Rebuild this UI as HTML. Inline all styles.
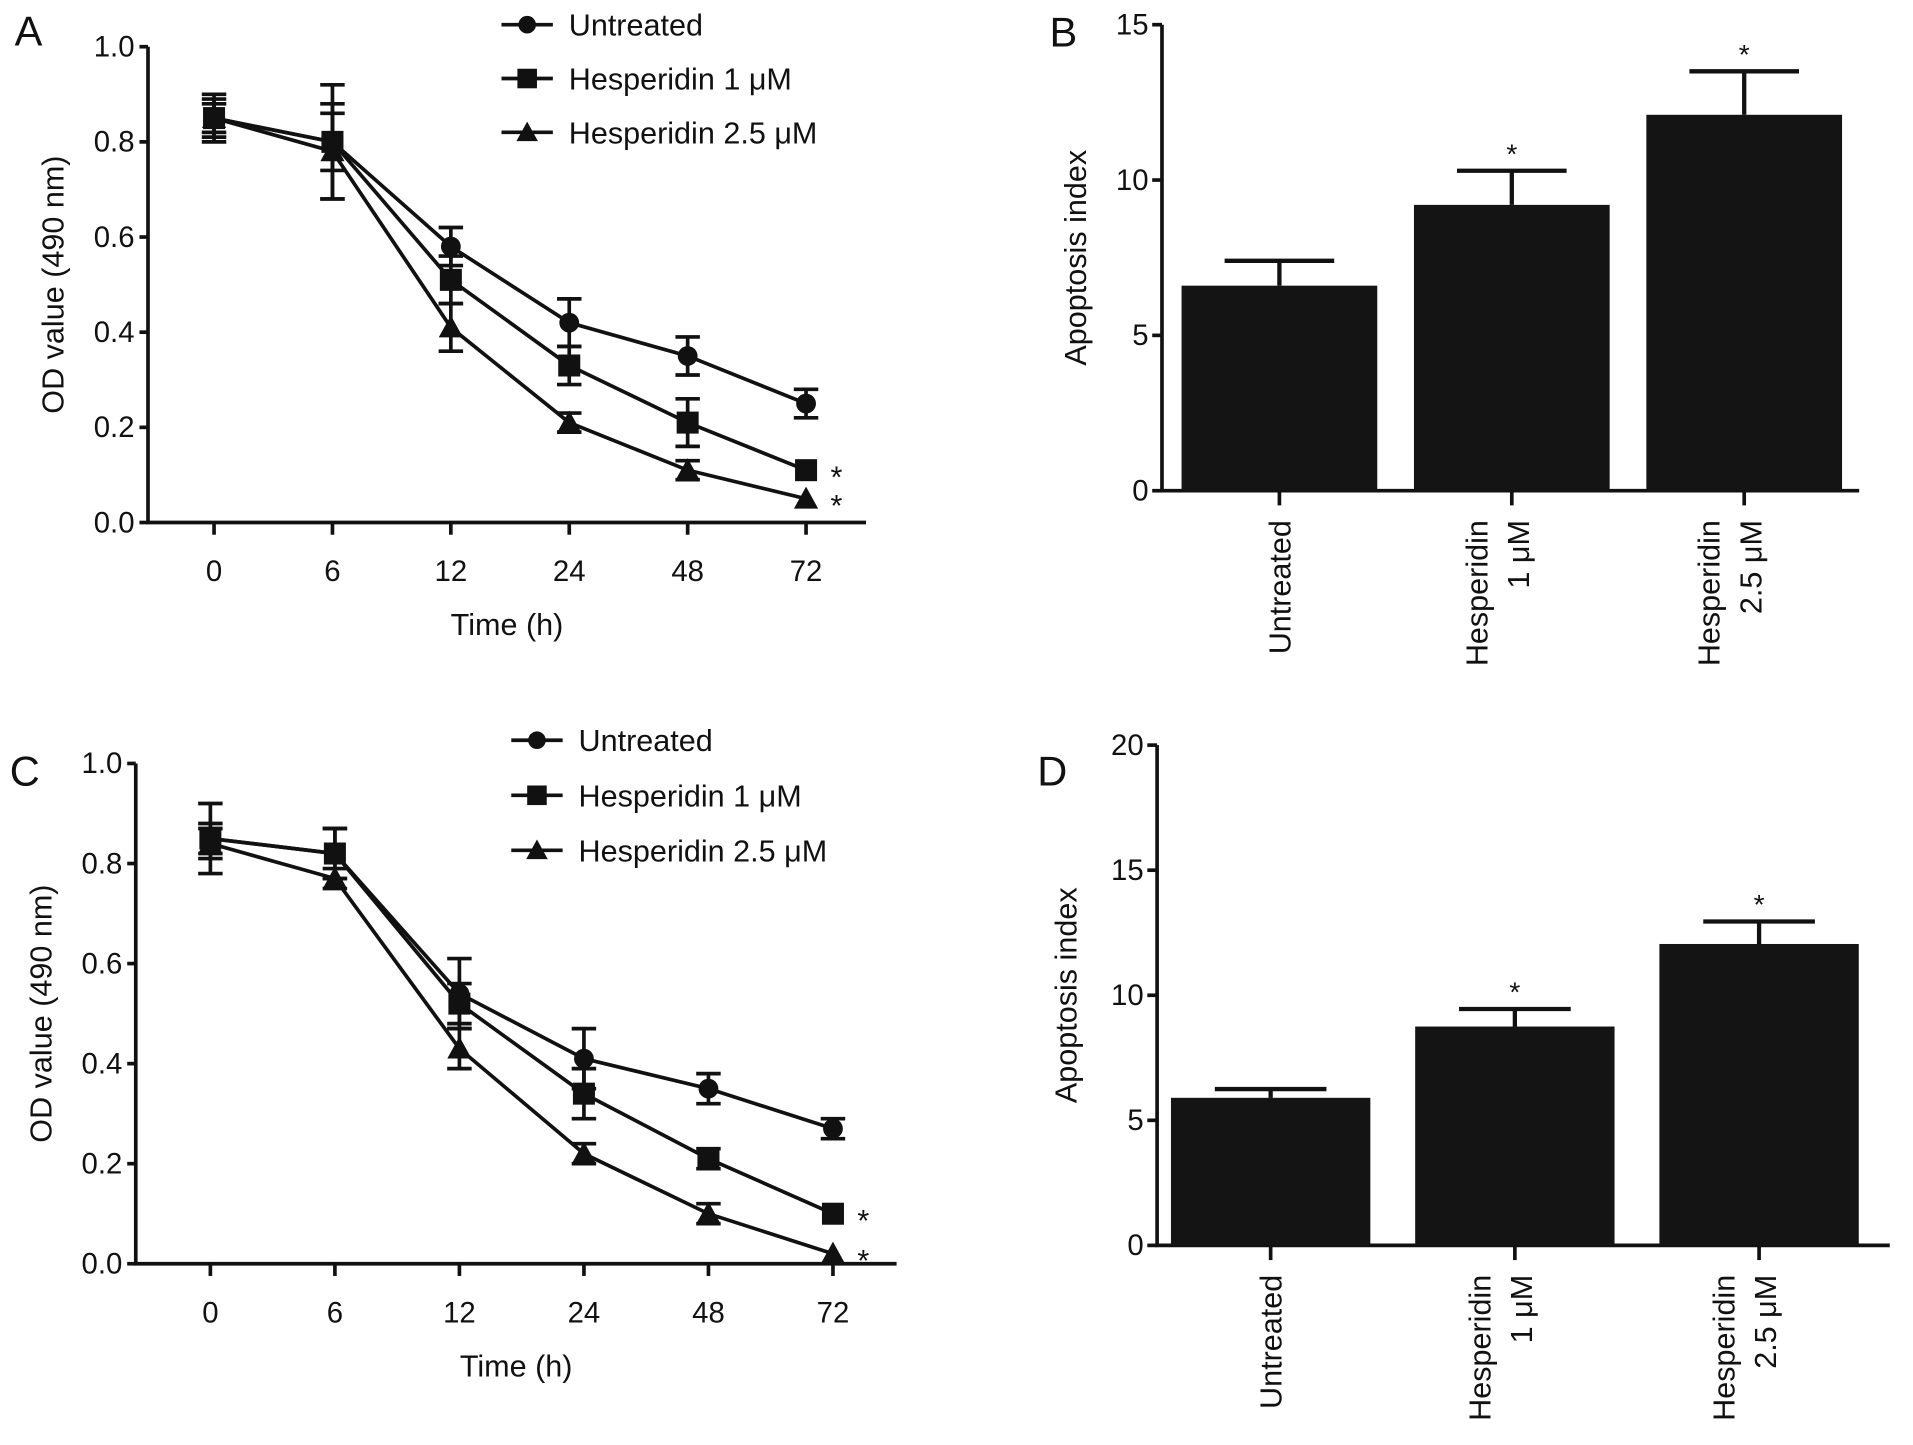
<!DOCTYPE html>
<html><head><meta charset="utf-8"><style>
html,body{margin:0;padding:0;background:#fff}
svg{display:block}
text{font-family:"Liberation Sans",Arial,sans-serif;fill:#111}
</style></head><body>
<svg id="fig" width="1913" height="1445" viewBox="0 0 1564 1181" xmlns="http://www.w3.org/2000/svg"></svg>
<script>
// ---- data ----
const timeLabels = ["0","6","12","24","48","72"];
const seriesNames = ["Untreated","Hesperidin 1 \u03bcM","Hesperidin 2.5 \u03bcM"];
const aUntreated = [0.85,0.80,0.58,0.42,0.35,0.25];
const aUntreatedErr = [0.05,0.12,0.04,0.05,0.04,0.03];
const aH1 = [0.85,0.80,0.51,0.33,0.21,0.11];
const aH1Err = [0.04,0.06,0.05,0.04,0.05,0.0];
const aH25 = [0.85,0.78,0.41,0.21,0.11,0.05];
const aH25Err = [0.03,0.10,0.05,0.02,0.02,0.0];
const cUntreated = [0.85,0.82,0.54,0.41,0.35,0.27];
const cUntreatedErr = [0.07,0.05,0.07,0.06,0.03,0.02];
const cH1 = [0.85,0.82,0.52,0.34,0.21,0.10];
const cH1Err = [0.03,0.05,0.04,0.05,0.02,0.0];
const cH25 = [0.84,0.77,0.43,0.22,0.10,0.02];
const cH25Err = [0.03,0.02,0.04,0.02,0.02,0.0];
const odTicks = [0,0.2,0.4,0.6,0.8,1.0];
const barCategories = [["Untreated"],["Hesperidin","1 \u03bcM"],["Hesperidin","2.5 \u03bcM"]];
const bValues = [6.6,9.2,12.1];
const bErr = [0.8,1.1,1.4];
const bTicks = [0,5,10,15];
const dValues = [5.9,8.75,12.05];
const dErr = [0.35,0.7,0.9];
const dTicks = [0,5,10,15,20];

const NS="http://www.w3.org/2000/svg";
const svg=document.getElementById('fig');
function mk(tag,attrs,parent){const e=document.createElementNS(NS,tag);for(const k in attrs)e.setAttribute(k,attrs[k]);(parent||svg).appendChild(e);return e;}
function txt(s,attrs,parent){const e=mk('text',attrs,parent);e.textContent=s;return e;}

function linePanel(cfg){
  const g=mk('g',{});
  
  
  const y=v=>cfg.y0+(cfg.y1-cfg.y0)*v;
  const x=i=>cfg.xs[0]+(cfg.xs[1]-cfg.xs[0])*i/5;
  const ax=mk('path',{d:`M${cfg.ax} ${cfg.y1} V${cfg.y0} H${cfg.axEnd}`,stroke:'#111','stroke-width':3,fill:'none'},g);
  
  
  odTicks.forEach(t=>{
    mk('line',{x1:cfg.ax-7,x2:cfg.ax,y1:y(t),y2:y(t),stroke:'#111','stroke-width':3},g);
    const tl=txt(t.toFixed(1),{x:cfg.ax-11,y:y(t)+8,'text-anchor':'end','font-size':24},g);
    
    
  });
  timeLabels.forEach((t,i)=>{
    mk('line',{x1:x(i),x2:x(i),y1:cfg.y0,y2:cfg.y0+10,stroke:'#111','stroke-width':3},g);
    const tl=txt(t,{x:x(i),y:cfg.y0+48,'text-anchor':'middle','font-size':24},g);
    
    
  });
  const xt=txt('Time (h)',{x:(cfg.ax+cfg.axEnd)/2,y:cfg.y0+92,'text-anchor':'middle','font-size':25},g);
  
  
  const cy=(cfg.y0+cfg.y1)/2;
  const yt=txt('OD value (490 nm)',{x:cfg.ylx,y:cy,'text-anchor':'middle','font-size':25,transform:`rotate(-90 ${cfg.ylx} ${cy})`},g);
  
  
  const pl=txt(cfg.letter,{x:cfg.lx,y:cfg.ly,'font-size':34},g);
  
  
  const markers=['circle','square','triangle'];
  function marker(kind,cx,cy2,s){
    let m;
    if(kind==='circle')m=mk('circle',{cx:cx,cy:cy2,r:s*0.9,fill:'#111'},g);
    else if(kind==='square')m=mk('rect',{x:cx-s,y:cy2-s,width:2*s,height:2*s,fill:'#111'},g);
    else m=mk('polygon',{points:`${cx},${cy2-s*1.1} ${cx-s*1.1},${cy2+s*0.9} ${cx+s*1.1},${cy2+s*0.9}`,fill:'#111'},g);
    return m;
  }
  cfg.series.forEach((s,si)=>{
    const sg=mk('g',{},g);
    
    
    const d=s.v.map((v,i)=>(i?'L':'M')+x(i)+' '+y(v)).join(' ');
    mk('path',{d:d,stroke:'#111','stroke-width':3,fill:'none'},sg);
    s.v.forEach((v,i)=>{
      const e=s.e[i];
      if(e>0){
        mk('path',{d:`M${x(i)} ${y(v-e)} V${y(v+e)} M${x(i)-10} ${y(v-e)} H${x(i)+10} M${x(i)-10} ${y(v+e)} H${x(i)+10}`,stroke:'#111','stroke-width':3,fill:'none'},sg);
      }
      const m=marker(markers[si],x(i),y(v),9);
      
      
    });
  });
  [1,2].forEach(si=>{
    const v=cfg.series[si].v[5];
    const a=txt('*',{x:x(5)+20,y:y(v)+14,'font-size':25},g);
    
    
  });
  seriesNames.forEach((n,i)=>{
    const ly=cfg.legY+i*cfg.legStep;
    const lg=mk('g',{},g);
    
    
    mk('line',{x1:cfg.legX,x2:cfg.legX+42,y1:ly,y2:ly,stroke:'#111','stroke-width':3},lg);
    const m=marker(markers[i],cfg.legX+21,ly,8);
    lg.appendChild(m);
    txt(n,{x:cfg.legX+55,y:ly+9,'font-size':25},lg);
  });
}

function barPanel(cfg){
  const g=mk('g',{});
  
  
  const y=v=>cfg.y0-(cfg.y0-cfg.yTop)*v/cfg.max;
  const ax=mk('path',{d:`M${cfg.ax} ${cfg.yTop} V${cfg.y0} H${cfg.axEnd}`,stroke:'#111','stroke-width':3,fill:'none'},g);
  
  
  cfg.ticks.forEach(t=>{
    mk('line',{x1:cfg.ax-8,x2:cfg.ax,y1:y(t),y2:y(t),stroke:'#111','stroke-width':3},g);
    const tl=txt(String(t),{x:cfg.ax-11,y:y(t)+8,'text-anchor':'end','font-size':24},g);
    
    
  });
  const slot=(cfg.axEnd-cfg.ax)/3;
  cfg.values.forEach((v,i)=>{
    const cx=cfg.ax+slot*(i+0.5)+cfg.shift;
    const w=cfg.bw;
    const e=cfg.err[i];
    mk('path',{d:`M${cx} ${y(v)} V${y(v+e)} M${cx-w*0.28} ${y(v+e)} H${cx+w*0.28}`,stroke:'#111','stroke-width':3.5,fill:'none'},g);
    const r=mk('rect',{x:cx-w/2,y:y(v),width:w,height:cfg.y0-y(v),fill:'#141414'},g);
    
    
    mk('line',{x1:cx,x2:cx,y1:cfg.y0,y2:cfg.y0+12,stroke:'#111','stroke-width':3},g);
    if(i>0){
      const a=txt('*',{x:cx,y:y(v+e)-6,'text-anchor':'middle','font-size':23},g);
      
      
    }
    const lines=barCategories[i];
    lines.forEach((l,li)=>{
      const lx=cx+(lines.length===1?9:-20+li*34);
      const ly=cfg.y0+24;
      const t=txt(l,{x:lx,y:ly,'text-anchor':'end','font-size':25,transform:`rotate(-90 ${lx} ${ly})`},g);
      
      
    });
  });
  const cy=(cfg.y0+cfg.yTop)/2+cfg.ylShift;
  const yt=txt('Apoptosis index',{x:cfg.ylx,y:cy,'text-anchor':'middle','font-size':25,transform:`rotate(-90 ${cfg.ylx} ${cy})`},g);
  
  
  const pl=txt(cfg.letter,{x:cfg.lx,y:cfg.ly,'font-size':34},g);
  
  
}

linePanel({name:'panel-a-line-chart',letter:'A',lx:12,ly:37,ax:121,axEnd:708,y0:427,y1:38,xs:[175,659],ylx:52,
  series:[{v:aUntreated,e:aUntreatedErr},{v:aH1,e:aH1Err},{v:aH25,e:aH25Err}],legX:410,legY:20,legStep:44});
linePanel({name:'panel-c-line-chart',letter:'C',lx:8,ly:642,ax:111,axEnd:733,y0:1033,y1:624,xs:[172,681],ylx:42,
  series:[{v:cUntreated,e:cUntreatedErr},{v:cH1,e:cH1Err},{v:cH25,e:cH25Err}],legX:418,legY:605,legStep:45});
barPanel({name:'panel-b-bar-chart',letter:'B',lx:858,ly:38,ax:950,axEnd:1520,y0:401,yTop:20,max:15,ticks:bTicks,values:bValues,err:bErr,bw:160,shift:1,ylx:888,ylShift:0});
barPanel({name:'panel-d-bar-chart',letter:'D',lx:848,ly:642,ax:946,axEnd:1545,y0:1018,yTop:609,max:20,ticks:dTicks,values:dValues,err:dErr,bw:163,shift:-7,ylx:880,ylShift:0});
</script>
</body></html>
